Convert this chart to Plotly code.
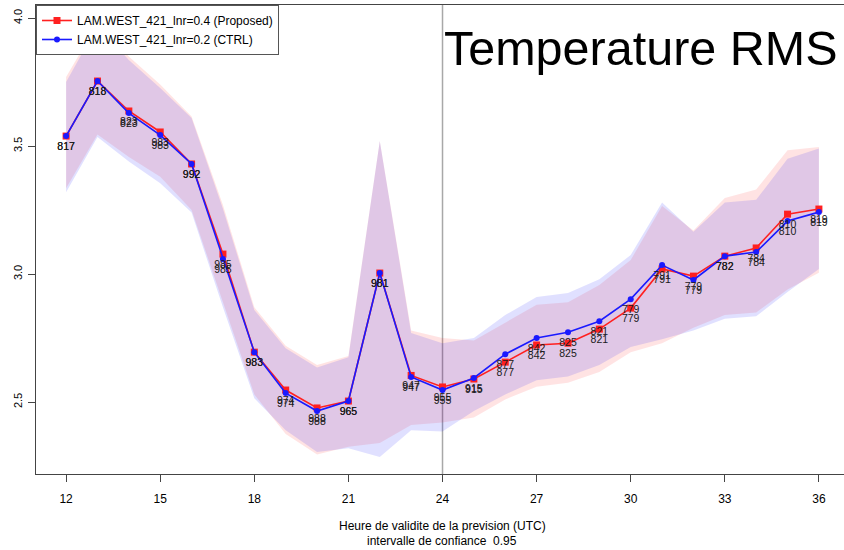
import plotly.graph_objects as go

# Forecast lead time (hours, UTC)
hours = list(range(12, 37))

# RMS of temperature for the two experiments
rms_proposed = [3.539, 3.754, 3.637, 3.555, 3.430, 3.078, 2.695, 2.547, 2.477, 2.504,
                3.004, 2.604, 2.559, 2.590, 2.656, 2.723, 2.730, 2.785, 2.867, 3.020,
                2.992, 3.070, 3.102, 3.234, 3.254]
rms_ctrl = [3.539, 3.754, 3.629, 3.543, 3.430, 3.059, 2.695, 2.535, 2.465, 2.504,
            3.004, 2.598, 2.547, 2.594, 2.687, 2.750, 2.773, 2.816, 2.902, 3.035,
            2.977, 3.070, 3.086, 3.207, 3.242]

# 95% confidence bounds
proposed_lo = [3.335, 3.545, 3.457, 3.380, 3.250, 2.890, 2.530, 2.375, 2.295, 2.325,
               2.340, 2.410, 2.420, 2.440, 2.510, 2.560, 2.575, 2.617, 2.695, 2.730,
               2.790, 2.840, 2.850, 2.940, 3.005]
proposed_hi = [3.770, 3.980, 3.850, 3.740, 3.615, 3.270, 2.870, 2.720, 2.645, 2.680,
               3.520, 2.780, 2.750, 2.740, 2.810, 2.880, 2.890, 2.957, 3.055, 3.266,
               3.170, 3.297, 3.330, 3.484, 3.496]
ctrl_lo = [3.320, 3.535, 3.440, 3.355, 3.240, 2.870, 2.515, 2.390, 2.305, 2.320,
           2.285, 2.390, 2.385, 2.465, 2.530, 2.585, 2.600, 2.645, 2.715, 2.745,
           2.780, 2.825, 2.835, 2.930, 3.020]
ctrl_hi = [3.750, 3.970, 3.836, 3.727, 3.610, 3.255, 2.860, 2.710, 2.635, 2.675,
           3.520, 2.770, 2.730, 2.750, 2.840, 2.910, 2.926, 2.980, 3.074, 3.280,
           3.165, 3.280, 3.290, 3.450, 3.490]

# Number of cases behind each score
n_proposed = [817, 818, 823, 983, 992, 985, 983, 974, 988, 965, 981, 947, 955, 915,
              877, 842, 825, 821, 779, 791, 779, 782, 784, 810, 819]
n_ctrl = [817, 818, 823, 983, 992, 985, 983, 974, 988, 965, 981, 947, 955, 915,
          877, 842, 825, 821, 779, 791, 779, 782, 784, 810, 819]

y_ticks = [2.5, 3.0, 3.5, 4.0]
y_tick_labels = ["2.5", "3.0", "3.5", "4.0"]
x_ticks = [12, 15, 18, 21, 24, 27, 30, 33, 36]

name_proposed = "LAM.WEST_421_lnr=0.4 (Proposed)"
name_ctrl = "LAM.WEST_421_lnr=0.2 (CTRL)"

FONT = "Liberation Sans, Arial, sans-serif"

fig = go.Figure()

# Confidence bands
for lo, hi, col in [(proposed_lo, proposed_hi, "rgba(255,0,0,0.11)"),
                    (ctrl_lo, ctrl_hi, "rgba(0,0,255,0.12)")]:
    fig.add_trace(go.Scatter(
        x=hours + hours[::-1], y=hi + lo[::-1],
        fill="toself", fillcolor=col, line=dict(width=0),
        mode="lines", hoverinfo="skip", showlegend=False))

# Score curves
fig.add_trace(go.Scatter(
    x=hours, y=rms_proposed, name=name_proposed, mode="lines+markers",
    line=dict(color="#ff2020", width=1.6),
    marker=dict(symbol="square", size=7, color="#ff2020")))
fig.add_trace(go.Scatter(
    x=hours, y=rms_ctrl, name=name_ctrl, mode="lines+markers",
    line=dict(color="#1a1aff", width=1.6),
    marker=dict(symbol="circle", size=6, color="#1a1aff")))

# Case counts under the points (invisible markers set the text offset)
for vals, counts in [(rms_proposed, n_proposed), (rms_ctrl, n_ctrl)]:
    fig.add_trace(go.Scatter(
        x=hours, y=vals, mode="markers+text", text=[str(c) for c in counts],
        textposition="bottom center",
        marker=dict(size=8, color="rgba(0,0,0,0)"),
        textfont=dict(family=FONT, size=10.5, color="#1a1a1a"),
        hoverinfo="skip", showlegend=False))

# Day boundary at 24 h
fig.add_shape(type="line", xref="x", yref="paper", x0=24, x1=24, y0=0, y1=1,
              line=dict(color="#a8a8a8", width=1.5), layer="below")

fig.add_annotation(text="Temperature RMS", xref="paper", yref="paper",
                   x=0.995, y=0.908, xanchor="right", yanchor="middle",
                   showarrow=False, font=dict(family=FONT, size=48.5, color="black"))
fig.add_annotation(text="Heure de validite de la prevision (UTC)", xref="paper", yref="paper",
                   x=(442 - 36) / 808, y=(474 - 526) / 469, xanchor="center", yanchor="middle",
                   showarrow=False, font=dict(family=FONT, size=12, color="black"))
fig.add_annotation(text="intervalle de confiance\u00a0 0.95", xref="paper", yref="paper",
                   x=(442 - 36) / 808, y=(474 - 541) / 469, xanchor="center", yanchor="middle",
                   showarrow=False, font=dict(family=FONT, size=12, color="black"))

fig.update_layout(
    width=844, height=550,
    margin=dict(l=36, r=0, t=5, b=76),
    paper_bgcolor="white", plot_bgcolor="white",
    font=dict(family=FONT, size=11, color="black"),
    legend=dict(x=0, y=1, xanchor="left", yanchor="top",
                bgcolor="white", bordercolor="#555555", borderwidth=1,
                font=dict(family=FONT, size=12), tracegroupgap=0,
                itemwidth=30),
)
fig.update_xaxes(range=[11.04, 36.8], tickvals=x_ticks, ticks="outside", ticklen=7,
                 tickcolor="#444", showline=True, linecolor="#444", linewidth=1.2,
                 mirror=True, showgrid=False, zeroline=False,
                 tickfont=dict(family=FONT, size=12), ticklabelstandoff=6)
fig.update_yaxes(range=[2.219, 4.051], tickvals=y_ticks, ticktext=y_tick_labels,
                 ticks="outside", ticklen=7, tickcolor="#444", showline=True,
                 linecolor="#444", linewidth=1.2, showgrid=False, zeroline=False,
                 tickangle=-90, tickfont=dict(family=FONT, size=11), ticklabelstandoff=2)

fig.write_html("out.html")
